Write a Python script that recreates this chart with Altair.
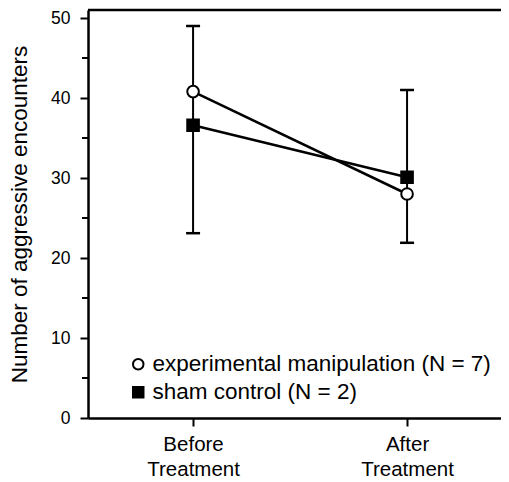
import json
import altair as alt
import pandas as pd

# ---- data ----
conditions = ["Before Treatment", "After Treatment"]
series_names = ["experimental manipulation (N = 7)", "sham control (N = 2)"]
exp_means = [40.8, 28.0]
sham_means = [36.6, 30.1]
err_low = [23.1, 21.9]
err_high = [49.0, 41.0]
y_ticks = [0, 10, 20, 30, 40, 50]
minor_ticks = [5, 15, 25, 35, 45]

FONT = "Liberation Sans"
W, H = 413, 408

rows = []
for i, c in enumerate(conditions):
    rows.append({"x": i + 1, "cond": c, "series": series_names[0], "mean": exp_means[i]})
    rows.append({"x": i + 1, "cond": c, "series": series_names[1], "mean": sham_means[i]})
df = pd.DataFrame(rows)

err_df = pd.DataFrame({"x": [i + 1 for i in range(len(conditions))],
                       "lo": err_low, "hi": err_high})
minor_df = pd.DataFrame({"v": minor_ticks})

label_expr = "split(" + json.dumps(conditions) + "[datum.value - 1], ' ')"

x_scale = alt.Scale(domain=[0.509, 2.439], nice=False, zero=False)
y_scale = alt.Scale(domain=[0, 51], nice=False, zero=True)

x_axis = alt.Axis(values=[1, 2], labelExpr=label_expr, title=None, grid=False,
                  tickSize=8, tickWidth=2, tickColor="black",
                  domainColor="black", domainWidth=2.5,
                  labelFont=FONT, labelFontSize=20.5, labelColor="black",
                  labelLineHeight=25, labelPadding=8)
y_axis = alt.Axis(values=y_ticks, title="Number of aggressive encounters", grid=False,
                  tickSize=8, tickWidth=2, tickColor="black",
                  domainColor="black", domainWidth=2.5,
                  labelFont=FONT, labelFontSize=17.5, labelColor="black", labelPadding=10,
                  titleFont=FONT, titleFontSize=22.5, titleFontWeight="normal",
                  titleColor="black", titlePadding=19)

X = alt.X("x:Q", scale=x_scale, axis=x_axis)
Y = alt.Y("mean:Q", scale=y_scale, axis=y_axis)

err_rule = alt.Chart(err_df).mark_rule(color="black", strokeWidth=2).encode(
    x=alt.X("x:Q", scale=x_scale, axis=x_axis),
    y=alt.Y("lo:Q", scale=y_scale, axis=y_axis), y2="hi:Q")
cap_lo = alt.Chart(err_df).mark_tick(color="black", orient="horizontal", size=14,
                                     thickness=2.5, opacity=1).encode(
    x=alt.X("x:Q", scale=x_scale), y=alt.Y("lo:Q", scale=y_scale))
cap_hi = alt.Chart(err_df).mark_tick(color="black", orient="horizontal", size=14,
                                     thickness=2.5, opacity=1).encode(
    x=alt.X("x:Q", scale=x_scale), y=alt.Y("hi:Q", scale=y_scale))

lines = alt.Chart(df).mark_line(color="black", strokeWidth=2.5).encode(
    x=X, y=Y, detail="series:N")

legend = alt.Legend(title=None, orient="none", legendX=39, legendY=343, padding=0,
                    labelFont=FONT, labelFontSize=22.5, labelColor="black",
                    labelOffset=3, rowPadding=5, symbolSize=110,
                    symbolStrokeWidth=2, labelLimit=500)

points = alt.Chart(df).mark_point(strokeWidth=2, opacity=1,
                                  fillOpacity=1, strokeOpacity=1, size=135).encode(
    x=X, y=Y,
    shape=alt.Shape("series:N", scale=alt.Scale(domain=series_names,
                                                range=["circle", "square"]),
                    legend=legend),
    fill=alt.Fill("series:N", scale=alt.Scale(domain=series_names,
                                              range=["white", "black"]),
                  legend=legend),
    stroke=alt.Stroke("series:N", scale=alt.Scale(domain=series_names,
                                                  range=["black", "black"]),
                      legend=legend),
)

minor = alt.Chart(minor_df).mark_tick(color="black", orient="horizontal", size=6,
                                      thickness=2, opacity=1).encode(
    y=alt.Y("v:Q", scale=y_scale), x=alt.value(-3))

top_line = alt.Chart(pd.DataFrame({"a": [0]})).mark_rule(
    color="black", strokeWidth=2.5).encode(
    y=alt.value(0), x=alt.value(0), x2=alt.value(W))

chart = alt.layer(err_rule, cap_lo, cap_hi, lines, points, minor, top_line).properties(
    width=W, height=H,
    autosize=alt.AutoSizeParams(type="none"),
    padding={"left": 80, "top": 2, "right": 0, "bottom": 60},
).configure_view(stroke=None).configure(background="white")

chart.save("out.html", embed_options={"renderer": "svg", "actions": False})
